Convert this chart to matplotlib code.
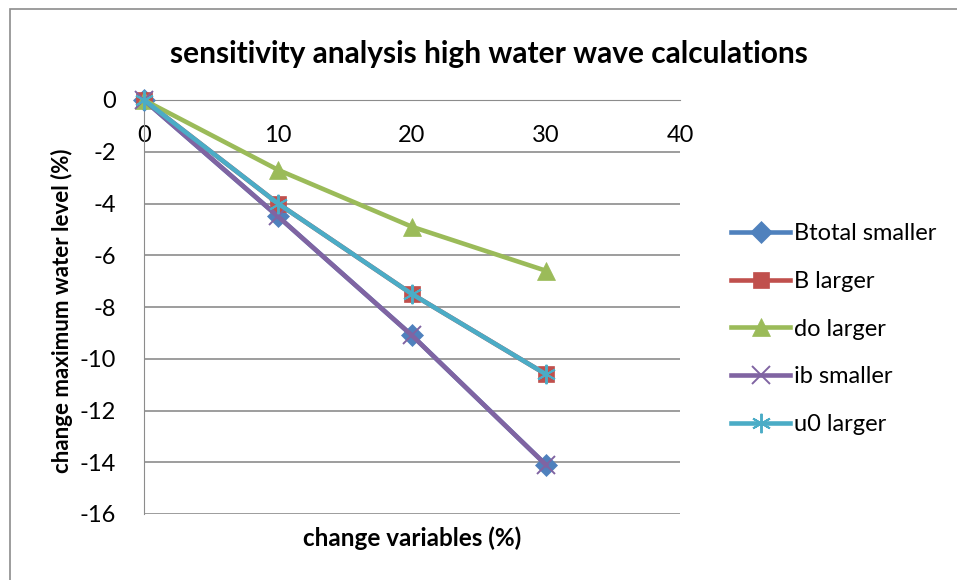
import matplotlib.pyplot as plt
from matplotlib.patches import Rectangle

# chart data
change_pct = [0, 10, 20, 30]
btotal_smaller = [0, -4.5, -9.1, -14.1]
b_larger = [0, -4.0, -7.5, -10.6]
do_larger = [0, -2.7, -4.9, -6.6]
ib_smaller = [0, -4.5, -9.1, -14.1]
u0_larger = [0, -4.0, -7.5, -10.6]

plt.rcParams['font.family'] = ['Lato', 'DejaVu Sans']
plt.rcParams['axes.unicode_minus'] = False

W, H = 957, 580
fig = plt.figure(figsize=(W / 100, H / 100), dpi=100)

# plot area in pixel coords
left, right, top, bottom = 144, 680, 100, 514
ax = fig.add_axes([left / W, 1 - bottom / H, (right - left) / W, (bottom - top) / H])

# outer chart border
fig.add_artist(Rectangle((10 / W, -0.05), 1.2, 1 - 9 / H + 0.05, transform=fig.transFigure,
                         facecolor='none', edgecolor='#8c8c8c', linewidth=1.2))

series = [
    ("Btotal smaller", btotal_smaller, '#4F81BD', 'D', 11),
    ("B larger", b_larger, '#C0504D', 's', 12),
    ("do larger", do_larger, '#9BBB59', '^', 13),
    ("ib smaller", ib_smaller, '#8064A2', 'x', 13),
    ("u0 larger", u0_larger, '#4BACC6', (6, 2, 0), 14),
]
for label, vals, color, marker, ms in series:
    ax.plot(change_pct, vals, color=color, lw=3.3, marker=marker, markersize=ms,
            markeredgewidth=1.4 if marker in ('x', (6, 2, 0)) else 0.5,
            markeredgecolor=color, label=label, clip_on=False, zorder=3)

ax.set_xlim(0, 40)
ax.set_ylim(-16, 0)
ax.set_xticks([0, 10, 20, 30, 40])
ax.set_yticks(range(-16, 1, 2))

# horizontal axis crosses at y = 0
ax.spines['bottom'].set_position(('data', 0))
ax.spines['top'].set_visible(False)
ax.spines['right'].set_visible(False)
ax.spines['left'].set_color('#8c8c8c')
ax.spines['bottom'].set_color('#8c8c8c')
ax.tick_params(length=0, labelsize=17)
ax.tick_params(axis='x', pad=18)
ax.tick_params(axis='y', pad=20)
ax.grid(axis='y', color='#8c8c8c', linewidth=1.2)
ax.set_axisbelow(True)

ax.set_title("sensitivity analysis high water wave calculations", fontsize=21.5,
             fontweight='bold', x=(489 - left) / (right - left), y=1.0, pad=27)
ax.text(0.5, -0.03, "change variables (%)", transform=ax.transAxes, ha='center',
        va='top', fontsize=17.5, fontweight='bold')
ax.text((62 - left) / (right - left), 0.49, "change maximum water level (%)",
        transform=ax.transAxes, rotation=90, ha='center', va='center',
        fontsize=16, fontweight='bold')

ax.legend(loc='upper left', bbox_to_anchor=(710 / W, 1 - 202 / H),
          bbox_transform=fig.transFigure, frameon=False, fontsize=17,
          handlelength=2.5, handletextpad=0.15, labelspacing=1.13)

fig.savefig("out.png", dpi=100)
